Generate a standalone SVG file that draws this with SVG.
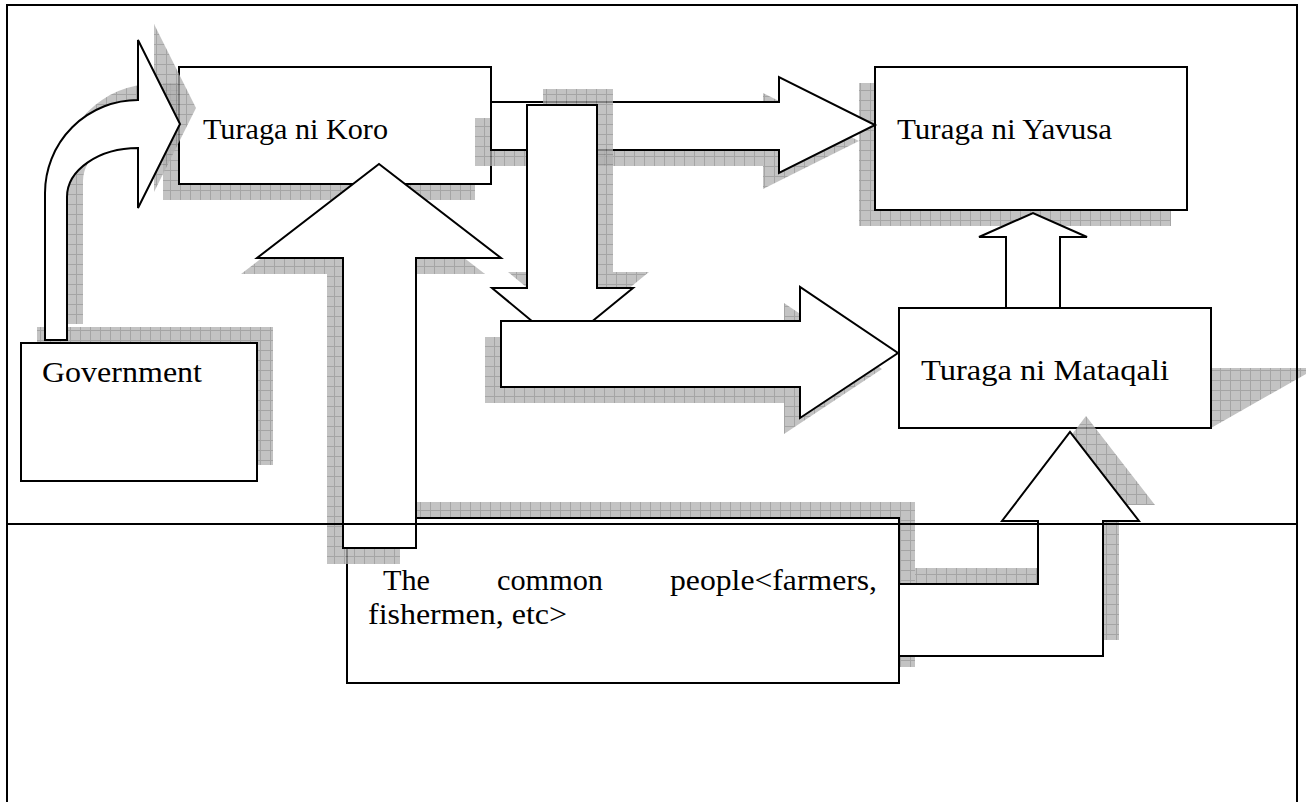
<svg xmlns="http://www.w3.org/2000/svg" width="1306" height="802" viewBox="0 0 1306 802">
  <style>
    .shape { fill: #ffffff; stroke: #000000; stroke-width: 2; stroke-linejoin: miter; }
    .shadow { fill: url(#grid); opacity: 0.75; }
    .label { font-family: "Liberation Serif", "DejaVu Serif", serif; font-size: 30px; fill: #000000; }
    .rule { fill: none; stroke: #000000; stroke-width: 2; }
  </style>
  <defs>
    <!-- hatched grey fill used for all drop shadows -->
    <pattern id="grid" x="0" y="0" width="10" height="10" patternUnits="userSpaceOnUse">
      <rect width="10" height="10" fill="#afafaf"/>
      <path d="M0 0.5H10M0.5 0V10" stroke="#878787" stroke-width="1"/>
    </pattern>
  </defs>

  <rect width="1306" height="802" fill="#ffffff"/>

  <!-- Turaga ni Yavusa -->
  <g id="node-yavusa">
    <rect class="shadow" x="859" y="83" width="312" height="143"/>
    <rect class="shape" x="875" y="67" width="312" height="143"/>
    <text class="label" x="897" y="139" textLength="215" lengthAdjust="spacingAndGlyphs">Turaga ni Yavusa</text>
  </g>

  <!-- Turaga ni Koro -->
  <g id="node-koro">
    <rect class="shadow" x="163" y="83" width="312" height="117"/>
    <rect class="shape" x="179" y="67" width="312" height="117"/>
    <text class="label" x="203" y="139" textLength="185" lengthAdjust="spacingAndGlyphs">Turaga ni Koro</text>
  </g>

  <!-- Government -->
  <g id="node-government">
    <rect class="shadow" x="37" y="327" width="236" height="138"/>
    <rect class="shape" x="21" y="343" width="236" height="138"/>
    <text class="label" x="42" y="382" textLength="160" lengthAdjust="spacingAndGlyphs">Government</text>
  </g>

  <g id="connectors">
    <!-- Government curving up into Turaga ni Koro -->
    <g id="arrow-gov-koro">
      <path class="shadow" transform="translate(16,-16)" d="M45,340 L45,193 A93,93 0 0 1 138,100 L138,40 L180,124 L138,208 L138,148 A71,49 0 0 0 67,197 L67,340 Z"/>
      <path class="shape" d="M45,340 L45,193 A93,93 0 0 1 138,100 L138,40 L180,124 L138,208 L138,148 A71,49 0 0 0 67,197 L67,340 Z"/>
    </g>

    <!-- Turaga ni Koro to Turaga ni Yavusa -->
    <g id="arrow-koro-yavusa">
      <polygon class="shadow" transform="translate(-16,16)" points="491,102 779,102 779,77 875,125 779,173 779,150 491,150"/>
      <polygon class="shape" points="491,102 779,102 779,77 875,125 779,173 779,150 491,150"/>
    </g>

    <!-- Turaga ni Koro down to the middle arrow -->
    <g id="arrow-koro-down">
      <polygon class="shadow" transform="translate(16,-16)" points="527,105 597,105 597,288 633,288 562,346 492,288 527,288"/>
      <polygon class="shape" points="527,105 597,105 597,288 633,288 562,346 492,288 527,288"/>
    </g>

    <!-- middle arrow into Turaga ni Mataqali -->
    <g id="arrow-mid-mataqali">
      <polygon class="shadow" transform="translate(-16,16)" points="501,321 800,321 800,287 898,353 800,418 800,387 501,387"/>
      <polygon class="shape" points="501,321 800,321 800,287 898,353 800,418 800,387 501,387"/>
    </g>
  </g>

  <!-- The common people -->
  <g id="node-common">
    <rect class="shadow" x="363" y="502" width="552" height="165"/>
    <rect class="shape" x="347" y="518" width="552" height="165"/>
    <text class="label" x="383" y="590" textLength="47" lengthAdjust="spacingAndGlyphs">The</text>
    <text class="label" x="497" y="590" textLength="106" lengthAdjust="spacingAndGlyphs">common</text>
    <text class="label" x="670" y="590" textLength="207" lengthAdjust="spacingAndGlyphs">people&lt;farmers,</text>
    <text class="label" x="368" y="624" textLength="199" lengthAdjust="spacingAndGlyphs">fishermen, etc&gt;</text>
  </g>

  <g id="connectors-upper">
    <!-- common people up to Turaga ni Koro -->
    <g id="arrow-common-koro">
      <polygon class="shadow" transform="translate(-16,16)" points="343,548 343,258 257,258 379,164 501,258 416,258 416,548"/>
      <polygon class="shape" points="343,548 343,258 257,258 379,164 501,258 416,258 416,548"/>
    </g>
  </g>

  <!-- Turaga ni Mataqali -->
  <g id="node-mataqali">
    <polygon class="shadow" points="1211,368 1306,368 1306,374 1211,428"/>
    <rect class="shape" x="899" y="308" width="312" height="120"/>
    <text class="label" x="921" y="380" textLength="248" lengthAdjust="spacingAndGlyphs">Turaga ni Mataqali</text>
  </g>

  <g id="connectors-right">
    <!-- common people bending up to Turaga ni Mataqali -->
    <g id="arrow-common-mataqali">
      <polygon class="shadow" transform="translate(16,-16)" points="899,584 1038,584 1038,521 1002,521 1070,432 1139,521 1103,521 1103,656 899,656"/>
      <polygon class="shape" points="899,584 1038,584 1038,521 1002,521 1070,432 1139,521 1103,521 1103,656 899,656"/>
    </g>
    <!-- Turaga ni Mataqali up to Turaga ni Yavusa -->
    <g id="arrow-mataqali-yavusa">
      <polygon class="shape" points="1006,308 1006,237 979,237 1033,213 1087,237 1060,237 1060,308"/>
    </g>
  </g>

  <!-- page frame and divider -->
  <g id="frame">
    <path class="rule" d="M7,802 V5 H1297 V802"/>
    <line class="rule" x1="7" y1="524" x2="1297" y2="524"/>
  </g>
</svg>
